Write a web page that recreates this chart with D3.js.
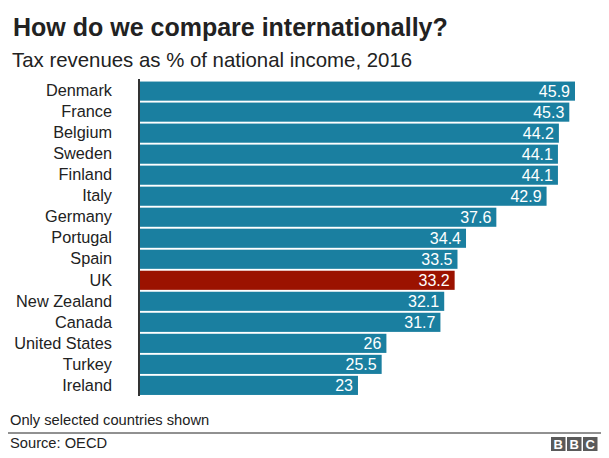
<!DOCTYPE html>
<html>
<head>
<meta charset="utf-8">
<script src="https://cdn.jsdelivr.net/npm/d3@7"></script>
<style>
  html, body { margin: 0; padding: 0; background: #fff; }
  svg { display: block; font-family: "Liberation Sans", Arial, Helvetica, sans-serif; }
</style>
</head>
<body>
<svg id="chart" width="609" height="458"></svg>
<script>
const countries = ["Denmark","France","Belgium","Sweden","Finland","Italy","Germany","Portugal","Spain","UK","New Zealand","Canada","United States","Turkey","Ireland"];
const values = [45.9,45.3,44.2,44.1,44.1,42.9,37.6,34.4,33.5,33.2,32.1,31.7,26,25.5,23];
const highlighted = ["UK"];
const titleText = "How do we compare internationally?";
const subtitleText = "Tax revenues as % of national income, 2016";
const noteText = "Only selected countries shown";
const sourceText = "Source: OECD";

const data = countries.map((c, i) => ({ country: c, value: values[i] }));

const svg = d3.select("#chart");

const x = d3.scaleLinear().domain([0, 45.9]).range([140, 575]);
const y = d3.scaleBand().domain(countries).range([80.5, 396]).paddingInner(0.09).paddingOuter(0.05);

// Title & subtitle
svg.append("text").attr("x", 13).attr("y", 36)
  .attr("font-size", 25).attr("font-weight", "bold").attr("fill", "#222")
  .text(titleText);
svg.append("text").attr("x", 12).attr("y", 67)
  .attr("font-size", 20.4).attr("fill", "#222")
  .text(subtitleText);

// Bars
svg.append("g").selectAll("rect").data(data).join("rect")
  .attr("x", x(0))
  .attr("y", d => y(d.country))
  .attr("width", d => x(d.value) - x(0))
  .attr("height", y.bandwidth())
  .attr("fill", d => highlighted.includes(d.country) ? "#9b1200" : "#1a7fa0");

// Value labels
svg.append("g").selectAll("text").data(data).join("text")
  .attr("x", d => x(d.value) - 5)
  .attr("y", d => y(d.country) + y.bandwidth() / 2)
  .attr("dy", "0.36em")
  .attr("text-anchor", "end")
  .attr("font-size", 16)
  .attr("fill", "#fff")
  .text(d => d.value);

// Category axis
const yAxis = d3.axisLeft(y).tickSize(0).tickPadding(27);
const gA = svg.append("g").attr("transform", `translate(${x(0) - 1},0)`).call(yAxis);
gA.select(".domain").remove();
gA.selectAll("text").attr("font-size", 16.3).attr("fill", "#222")
  .attr("font-family", "'Liberation Sans', Arial, sans-serif");
svg.append("line").attr("x1", x(0) - 1).attr("x2", x(0) - 1)
  .attr("y1", 79).attr("y2", 396)
  .attr("stroke", "#333").attr("stroke-width", 2);

// Footer
svg.append("text").attr("x", 10).attr("y", 425)
  .attr("font-size", 14.7).attr("fill", "#222").text(noteText);
svg.append("line").attr("x1", 8).attr("x2", 601).attr("y1", 433).attr("y2", 433)
  .attr("stroke", "#222").attr("stroke-width", 1);
svg.append("text").attr("x", 10).attr("y", 448)
  .attr("font-size", 14.7).attr("fill", "#222").text(sourceText);

// BBC logo
const logo = svg.append("g").attr("transform", "translate(551,437)");
["B","B","C"].forEach((ch, i) => {
  logo.append("rect").attr("x", i * 16).attr("y", 0).attr("width", 14.5).attr("height", 14).attr("fill", "#5a5a5a");
  logo.append("text").attr("x", i * 16 + 7.25).attr("y", 12).attr("text-anchor", "middle")
    .attr("font-size", 13).attr("font-weight", "bold").attr("fill", "#fff").text(ch);
});
</script>
</body>
</html>
